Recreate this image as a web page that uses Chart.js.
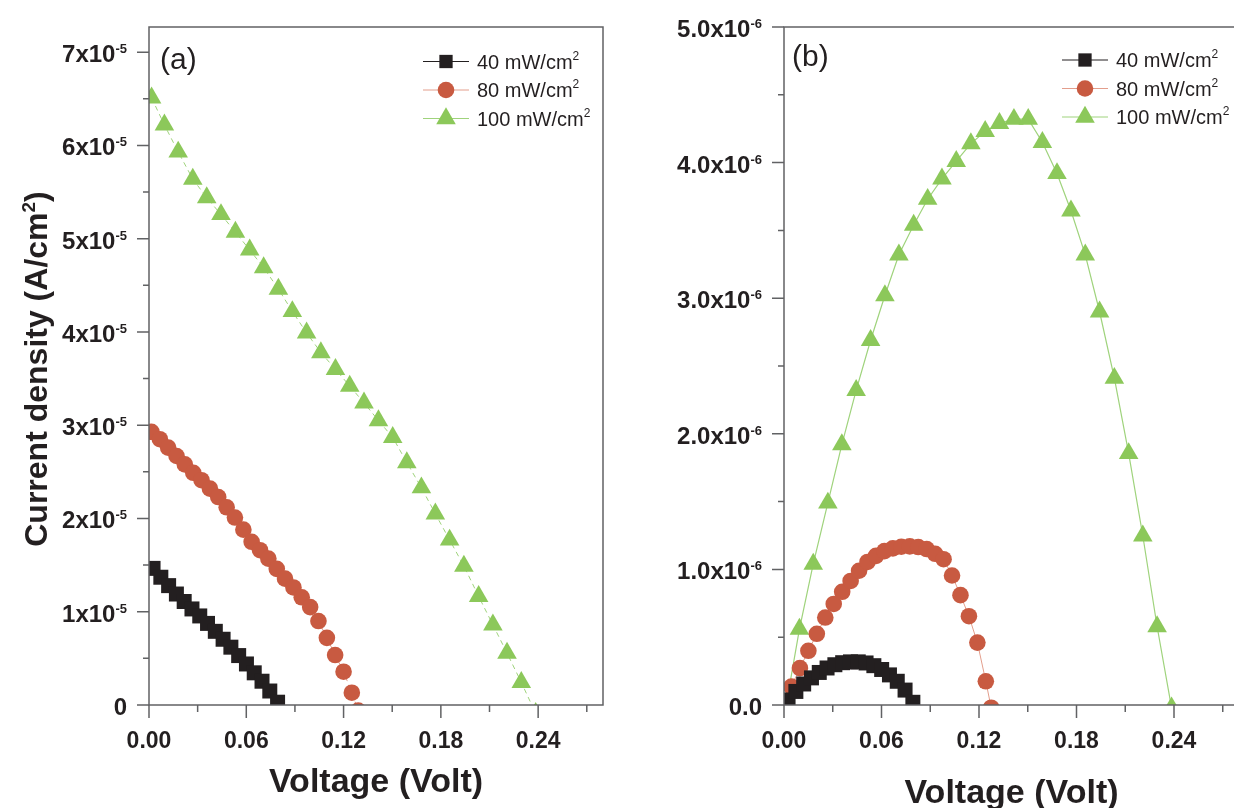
<!DOCTYPE html>
<html>
<head>
<meta charset="utf-8">
<script src="https://cdn.jsdelivr.net/npm/chart.js@4.4.0/dist/chart.umd.min.js"></script>
<style>
  html, body { margin: 0; padding: 0; background: #fff; overflow: hidden; width: 1234px; height: 808px; }
  canvas { position: absolute; top: 0; }
  #chartA { left: 0; }
  #chartB { left: 620px; }
</style>
</head>
<body>
<canvas id="chartA" width="620" height="808"></canvas>
<canvas id="chartB" width="620" height="808"></canvas>
<script>
// ---- data ----
// series names (legend)
const seriesNames = ['40 mW/cm', '80 mW/cm', '100 mW/cm'];

// panel (a): current density, units of 1e-5 A/cm2
const voltA40 = [0.0025, 0.0073, 0.0121, 0.0169, 0.0217, 0.0265, 0.0313, 0.0361, 0.0409, 0.0457, 0.0505, 0.0553, 0.0601, 0.0649, 0.0697, 0.0745, 0.0793];
const currA40 = [1.465, 1.37, 1.28, 1.19, 1.11, 1.03, 0.955, 0.875, 0.79, 0.705, 0.62, 0.53, 0.44, 0.345, 0.255, 0.15, 0.03];

const voltA80 = [0.0015, 0.0067, 0.0118, 0.017, 0.0221, 0.0273, 0.0324, 0.0376, 0.0427, 0.0479, 0.053, 0.0582, 0.0633, 0.0685, 0.0736, 0.0788, 0.0839, 0.0891, 0.0942, 0.0994, 0.1045, 0.1097, 0.1148, 0.12, 0.1251, 0.129];
const currA80 = [2.93, 2.85, 2.76, 2.67, 2.58, 2.49, 2.41, 2.32, 2.23, 2.12, 2.01, 1.88, 1.75, 1.66, 1.57, 1.46, 1.355, 1.26, 1.155, 1.05, 0.90, 0.72, 0.536, 0.357, 0.132, -0.06];

const volt100 = [0.0016, 0.0095, 0.018, 0.027, 0.0356, 0.0444, 0.0533, 0.0621, 0.0707, 0.0798, 0.0884, 0.0972, 0.106, 0.115, 0.1238, 0.1326, 0.1415, 0.1503, 0.159, 0.168, 0.1766, 0.1854, 0.1942, 0.2033, 0.2121, 0.2208, 0.2296, 0.2385];
const currA100 = [6.51, 6.22, 5.93, 5.64, 5.44, 5.26, 5.07, 4.88, 4.69, 4.46, 4.22, 3.99, 3.78, 3.60, 3.42, 3.24, 3.05, 2.87, 2.60, 2.33, 2.05, 1.77, 1.49, 1.165, 0.86, 0.557, 0.243, -0.09];

// panel (b): power, units of 1e-6 W/cm2
const powB40 = [0.037, 0.10, 0.155, 0.20, 0.24, 0.273, 0.297, 0.312, 0.318, 0.318, 0.31, 0.29, 0.262, 0.222, 0.175, 0.11, 0.02];

const voltB80 = [0.0046, 0.0098, 0.015, 0.0202, 0.0254, 0.0306, 0.0358, 0.041, 0.0462, 0.0514, 0.0566, 0.0618, 0.067, 0.0722, 0.0774, 0.0826, 0.0878, 0.093, 0.0982, 0.1034, 0.1086, 0.1138, 0.119, 0.1242, 0.1275];
const powB80 = [0.136, 0.272, 0.40, 0.525, 0.645, 0.745, 0.835, 0.915, 0.99, 1.055, 1.10, 1.135, 1.155, 1.167, 1.17, 1.165, 1.15, 1.115, 1.075, 0.955, 0.81, 0.655, 0.46, 0.175, -0.02];

const powB100 = [0.02, 0.56, 1.04, 1.49, 1.92, 2.32, 2.69, 3.02, 3.32, 3.54, 3.73, 3.88, 4.01, 4.14, 4.23, 4.29, 4.32, 4.32, 4.15, 3.92, 3.645, 3.32, 2.90, 2.41, 1.855, 1.248, 0.579, -0.02];

// ticks
const xTicks = [0, 0.06, 0.12, 0.18, 0.24];
const xTickLabels = ['0.00', '0.06', '0.12', '0.18', '0.24'];
const xMinor = [0.03, 0.09, 0.15, 0.21, 0.27];
const yTicksA = [0, 1, 2, 3, 4, 5, 6, 7];
const yTickLabelsA = ['0', '1x10', '2x10', '3x10', '4x10', '5x10', '6x10', '7x10'];
const yMinorA = [0.5, 1.5, 2.5, 3.5, 4.5, 5.5, 6.5];
const yTicksB = [0, 1, 2, 3, 4, 5];
const yTickLabelsB = ['0.0', '1.0x10', '2.0x10', '3.0x10', '4.0x10', '5.0x10'];
const yMinorB = [0.5, 1.5, 2.5, 3.5, 4.5];

const FONT = '"Liberation Sans", Arial, Helvetica, sans-serif';
const AXIS = '#616264';
const BLACK = '#231f20', RED = '#c85a41', GREEN = '#8cc85a';
const RED_LINE = '#e39e8c', GREEN_LINE = '#9fd37c';

function zip(xs, ys) {
  return xs.map((x, i) => ({ x: x, y: ys[i] }));
}

// text with superscript pieces: parts = [[text, font, dy], ...]
function richText(ctx, parts, x, y, align) {
  let w = 0;
  parts.forEach(p => { ctx.font = p[1]; w += ctx.measureText(p[0]).width; });
  let cx = align === 'right' ? x - w : (align === 'center' ? x - w / 2 : x);
  ctx.textAlign = 'left';
  ctx.textBaseline = 'alphabetic';
  parts.forEach(p => {
    ctx.font = p[1];
    ctx.fillText(p[0], cx, y + (p[2] || 0));
    cx += ctx.measureText(p[0]).width;
  });
}

function marker(ctx, style, r, x, y, color) {
  ctx.fillStyle = color;
  ctx.beginPath();
  if (style === 'rect') {
    const s = r * Math.SQRT1_2;
    ctx.rect(x - s, y - s, 2 * s, 2 * s);
  } else if (style === 'circle') {
    ctx.arc(x, y, r, 0, Math.PI * 2);
  } else {
    ctx.moveTo(x, y - r);
    ctx.lineTo(x + 0.866 * r, y + 0.5 * r);
    ctx.lineTo(x - 0.866 * r, y + 0.5 * r);
    ctx.closePath();
  }
  ctx.fill();
}

const legendItems = [
  { style: 'rect', r: 9.4, color: BLACK, line: BLACK },
  { style: 'circle', r: 8.3, color: RED, line: RED_LINE },
  { style: 'triangle', r: 11.3, color: GREEN, line: GREEN_LINE }
];

function framePlugin(cfg) {
  return {
    id: 'frame',
    afterDraw(chart) {
      const ctx = chart.ctx;
      const a = chart.chartArea;
      const xs = chart.scales.x, ys = chart.scales.y;
      ctx.save();

      // box
      ctx.strokeStyle = AXIS;
      ctx.lineWidth = 1.5;
      ctx.beginPath();
      ctx.moveTo(a.left, a.top); ctx.lineTo(a.right, a.top);
      ctx.lineTo(a.right, a.bottom); ctx.lineTo(a.left, a.bottom);
      ctx.closePath();
      ctx.stroke();

      // y ticks
      ctx.beginPath();
      cfg.yTicks.forEach(v => { const p = ys.getPixelForValue(v); ctx.moveTo(a.left - 12, p); ctx.lineTo(a.left, p); });
      cfg.yMinor.forEach(v => { const p = ys.getPixelForValue(v); ctx.moveTo(a.left - 6, p); ctx.lineTo(a.left, p); });
      // x ticks
      xTicks.forEach(v => { const p = xs.getPixelForValue(v); ctx.moveTo(p, a.bottom); ctx.lineTo(p, a.bottom + 13); });
      xMinor.forEach(v => { const p = xs.getPixelForValue(v); ctx.moveTo(p, a.bottom); ctx.lineTo(p, a.bottom + 7); });
      ctx.stroke();

      ctx.fillStyle = BLACK;
      // y tick labels
      cfg.yTicks.forEach((v, i) => {
        const p = ys.getPixelForValue(v);
        const parts = [[cfg.yLabels[i], 'bold 24px ' + FONT, 0]];
        if (v !== 0) parts.push([cfg.ySup, 'bold 13px ' + FONT, -9]);
        richText(ctx, parts, a.left - 22, p + 10, 'right');
      });
      // x tick labels
      xTicks.forEach((v, i) => {
        const p = xs.getPixelForValue(v);
        richText(ctx, [[xTickLabels[i], 'bold 23px ' + FONT, 0]], p, 748, 'center');
      });

      // x title
      richText(ctx, [['Voltage (Volt)', 'bold 34px ' + FONT, 0]], (a.left + a.right) / 2, cfg.xTitleY, 'center');

      // y title, rotated
      ctx.save();
      ctx.translate(cfg.yTitleX, 369);
      ctx.rotate(-Math.PI / 2);
      richText(ctx, [[cfg.yTitle, 'bold 32px ' + FONT, 0], ['2', 'bold 19px ' + FONT, -12], [')', 'bold 32px ' + FONT, 0]], 0, 0, 'center');
      ctx.restore();

      // panel label
      richText(ctx, [[cfg.panel, '30px ' + FONT, 0]], cfg.panelX, cfg.panelY, 'left');

      // legend
      cfg.legendRows.forEach((ry, i) => {
        const it = legendItems[i];
        ctx.strokeStyle = it.line;
        ctx.lineWidth = 1;
        ctx.beginPath();
        ctx.moveTo(cfg.legendX - 23, ry); ctx.lineTo(cfg.legendX + 23, ry);
        ctx.stroke();
        marker(ctx, it.style, it.r, cfg.legendX, ry, it.color);
        ctx.fillStyle = BLACK;
        richText(ctx, [[seriesNames[i], '20px ' + FONT, 0], ['2', '12px ' + FONT, -9]], cfg.legendX + 31, ry + 7, 'left');
      });
      ctx.restore();
    }
  };
}

function makeChart(id, cfg, datasets) {
  return new Chart(document.getElementById(id), {
    type: 'line',
    data: { datasets: datasets },
    options: {
      responsive: false,
      animation: false,
      events: [],
      layout: { autoPadding: false, padding: { left: 0, top: 27, right: cfg.padRight, bottom: 0 } },
      plugins: { legend: { display: false }, tooltip: { enabled: false }, title: { display: false } },
      scales: {
        x: {
          type: 'linear', min: 0, max: 0.28,
          grid: { display: false }, border: { display: false },
          ticks: { display: false },
          afterFit(scale) { scale.height = 103; }
        },
        y: {
          type: 'linear', min: 0, max: cfg.yMax,
          grid: { display: false }, border: { display: false },
          ticks: { display: false },
          afterFit(scale) { scale.width = cfg.yWidth; }
        }
      }
    },
    plugins: [framePlugin(cfg)]
  });
}

function series(data, color, line, style, r, dash, lw) {
  return {
    data: data,
    borderColor: line,
    borderWidth: lw,
    borderDash: dash,
    backgroundColor: color,
    pointBackgroundColor: color,
    pointBorderWidth: 0,
    pointStyle: style,
    pointRadius: r,
    tension: 0,
    fill: false
  };
}

makeChart('chartA', {
  padRight: 17, yWidth: 149, yMax: 7.27,
  yTicks: yTicksA, yLabels: yTickLabelsA, yMinor: yMinorA, ySup: '-5',
  yTitle: 'Current density (A/cm', yTitleX: 47, xTitleY: 792,
  panel: '(a)', panelX: 160, panelY: 69,
  legendRows: [61.5, 90, 118.5], legendX: 446
}, [
  series(zip(voltA40, currA40), BLACK, BLACK, 'rect', 10.6, [], 1),
  series(zip(voltA80, currA80), RED, RED_LINE, 'circle', 8.3, [5, 4], 1),
  series(zip(volt100, currA100), GREEN, GREEN_LINE, 'triangle', 11.3, [5, 4], 1)
]);

makeChart('chartB', {
  padRight: 1, yWidth: 164, yMax: 5.0,
  yTicks: yTicksB, yLabels: yTickLabelsB, yMinor: yMinorB, ySup: '-6',
  yTitle: 'Power (W/cm', yTitleX: 664, xTitleY: 803,
  panel: '(b)', panelX: 172, panelY: 66,
  legendRows: [60, 88.5, 117], legendX: 465
}, [
  series(zip(voltA40, powB40), BLACK, BLACK, 'rect', 10.6, [], 1),
  series(zip(voltB80, powB80), RED, RED_LINE, 'circle', 8.3, [], 1),
  series(zip(volt100, powB100), GREEN, GREEN_LINE, 'triangle', 11.3, [], 1.2)
]);
</script>
</body>
</html>
